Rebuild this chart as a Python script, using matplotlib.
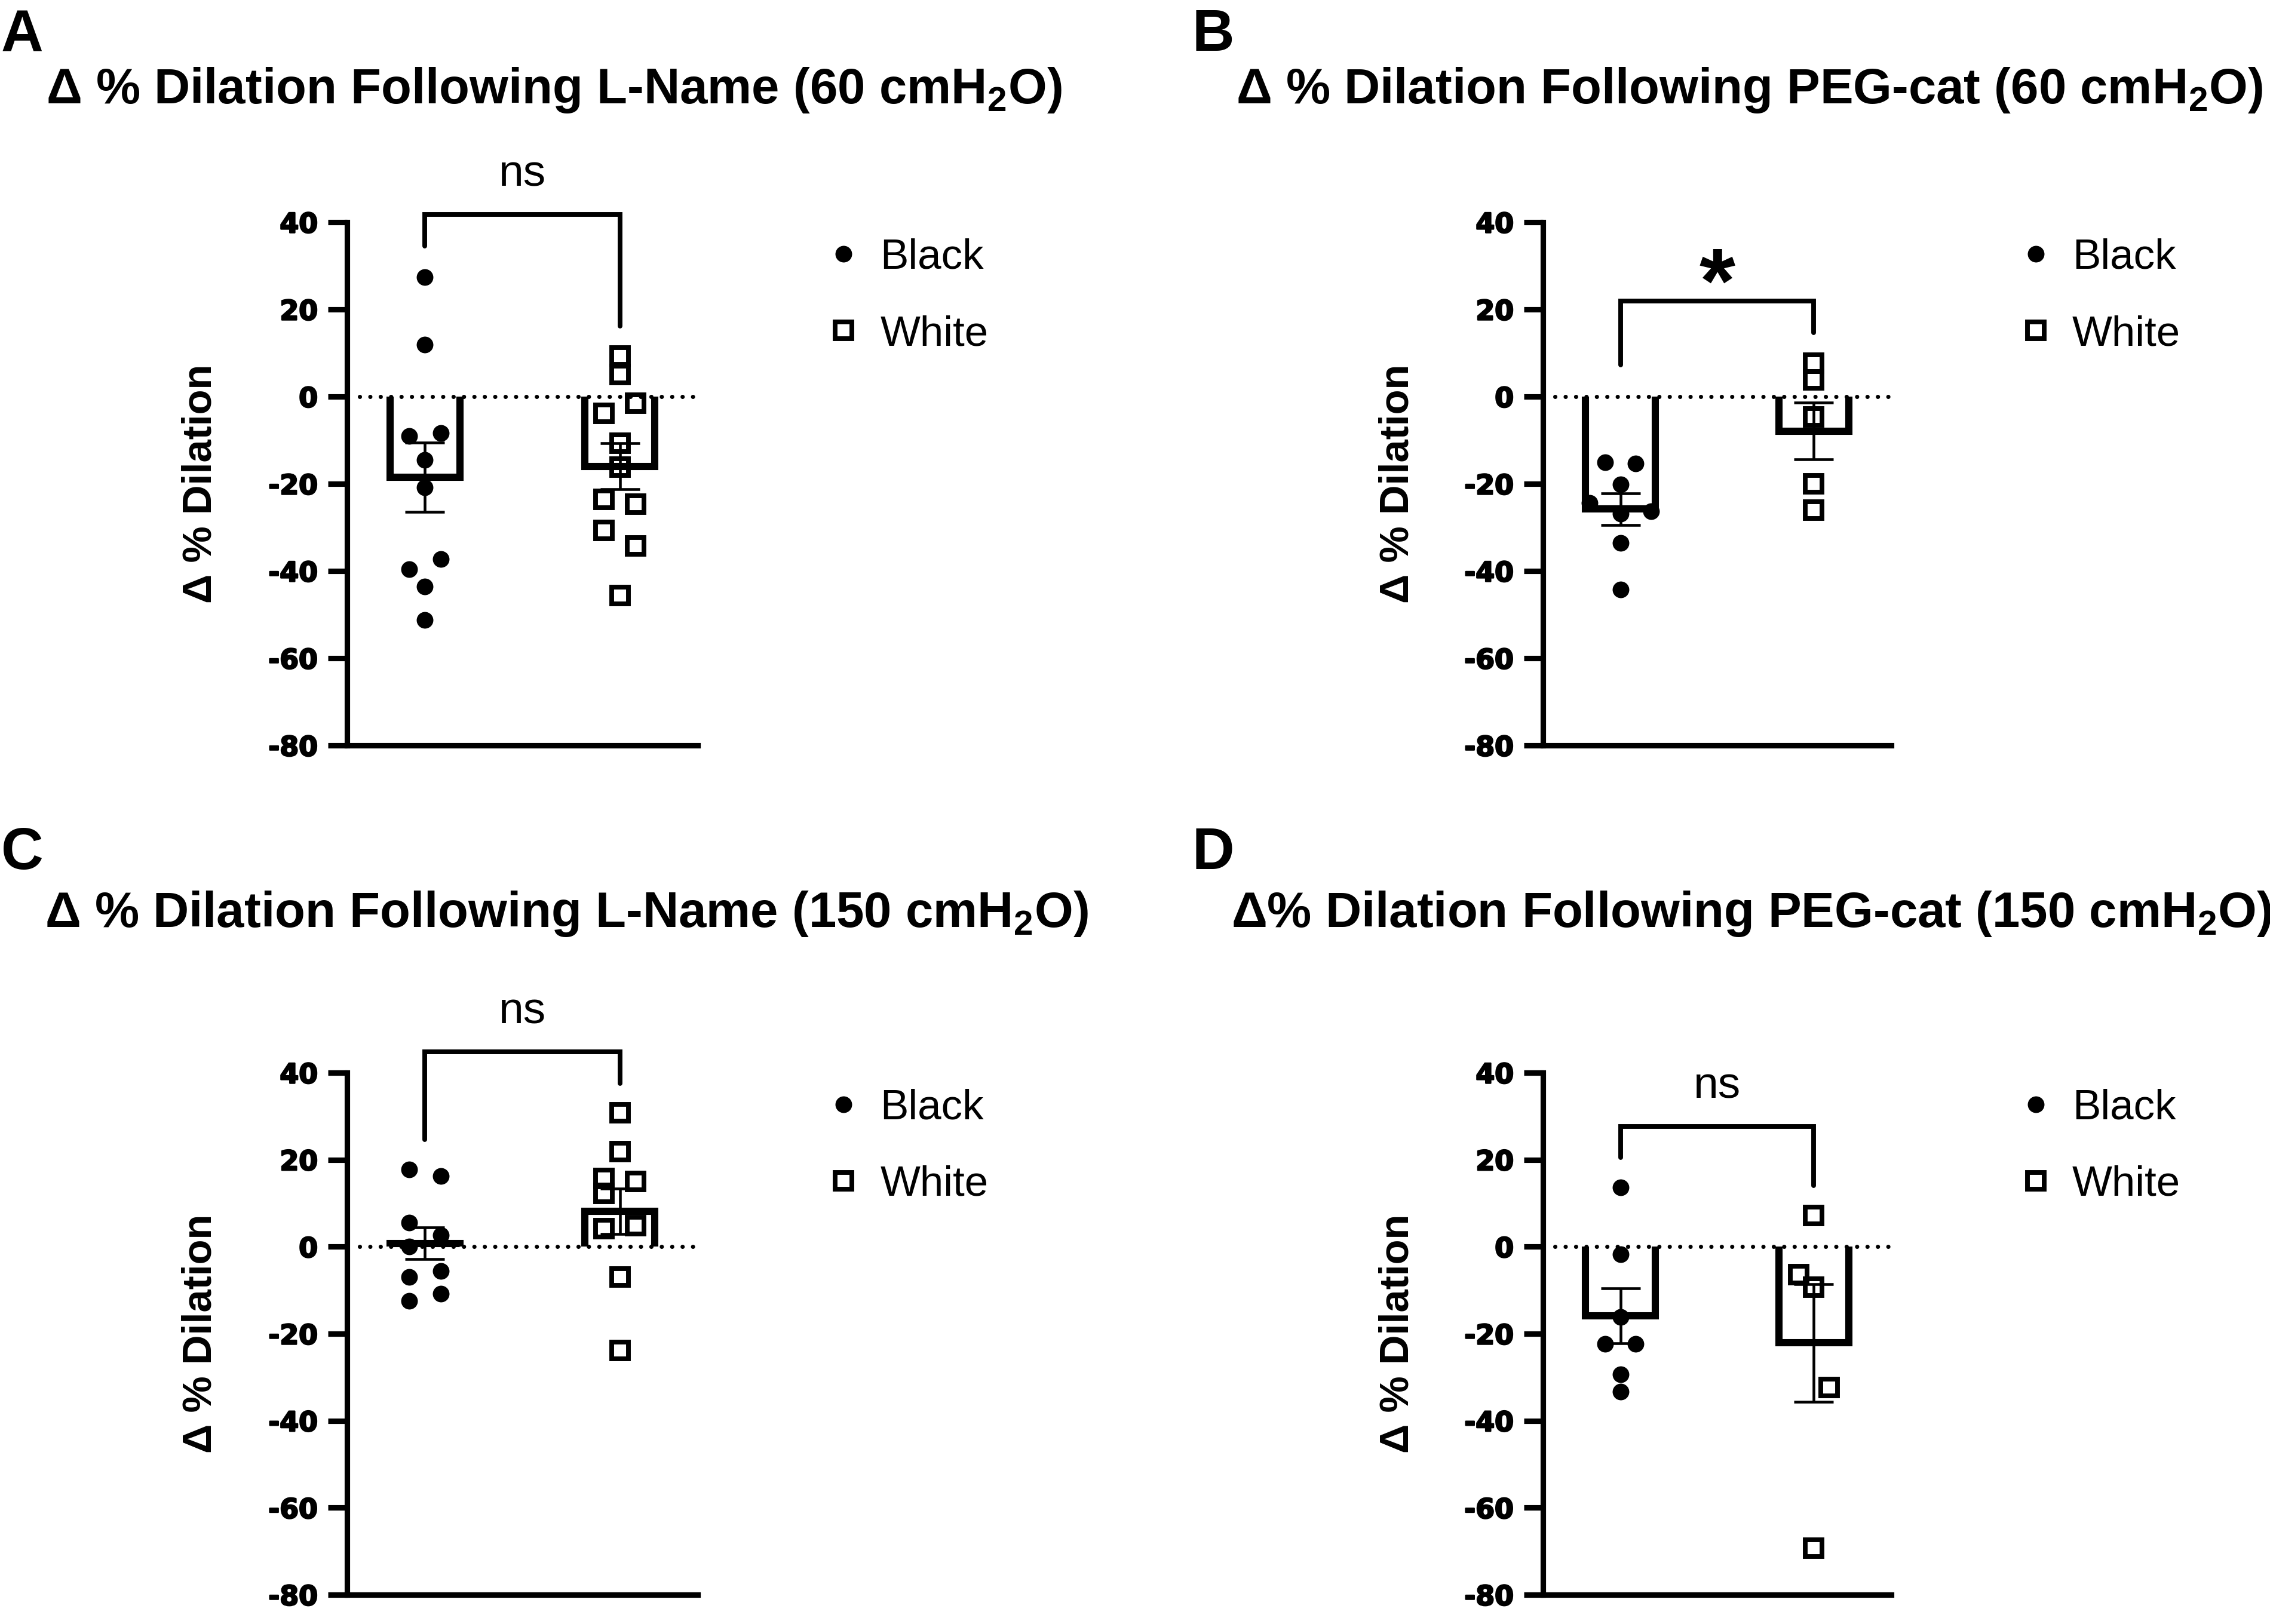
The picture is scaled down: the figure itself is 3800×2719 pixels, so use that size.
"""Four-panel bar + scatter figure: change in % dilation after L-Name / PEG-cat,
Black vs White groups, at 60 and 150 cmH2O. Writes out.png.
"""
import numpy as np
import matplotlib
matplotlib.use("Agg")
import matplotlib.pyplot as plt  # noqa: E402
import matplotlib.patheffects as pe  # noqa: E402

plt.rcParams["font.family"] = ["Liberation Sans", "DejaVu Sans"]
plt.rcParams["mathtext.fontset"] = "custom"
plt.rcParams["mathtext.bf"] = "Liberation Sans:bold"
plt.rcParams["mathtext.rm"] = "Liberation Sans"
plt.rcParams["mathtext.default"] = "bf"
plt.rcParams["axes.unicode_minus"] = False

# ---- data (Δ % dilation) ----
GROUPS = ["Black", "White"]

A_BLACK = [27.4, 11.9, -9.0, -8.3, -14.5, -20.8, -37.3, -39.6, -43.5, -51.2]
A_WHITE = [9.3, 5.1, -1.5, -3.9, -10.7, -16.1, -23.5, -24.6, -30.7, -34.2, -45.6]
B_BLACK = [-15.1, -15.4, -20.2, -24.4, -26.3, -26.8, -33.5, -44.2]
B_WHITE = [7.7, 3.9, -4.6, -20.0, -26.0]
C_BLACK = [17.7, 16.2, 5.5, 2.6, 0.1, -5.6, -6.9, -10.8, -12.5]
C_WHITE = [30.8, 21.9, 15.7, 15.0, 12.2, 4.2, 4.8, -6.9, -23.9]
D_BLACK = [13.7, -1.8, -16.2, -22.3, -22.3, -29.3, -33.3]
D_WHITE = [7.2, -9.3, -6.4, -32.4, -69.3]

# group mean and SEM per panel (Black, White)
MEANS = {"A": [-18.5, -16.0], "B": [-25.8, -7.9], "C": [0.8, 8.1], "D": [-15.9, -22.1]}
SEMS = {"A": [8.0, 5.3], "B": [3.6, 6.5], "C": [3.7, 5.2], "D": [6.3, 13.5]}

# comparison bracket: (left leg end, top, right leg end) and label
BRACKETS = {"A": (34.5, 41.8, 16.1), "B": (7.2, 21.9, 14.7),
            "C": (24.6, 44.8, 37.5), "D": (20.5, 27.7, 14.1)}
SIG = {"A": "ns", "B": "*", "C": "ns", "D": "ns"}

TITLES = {"A": "Δ % Dilation Following L-Name (60 cmH$_2$O)",
          "B": "Δ % Dilation Following PEG-cat (60 cmH$_2$O)",
          "C": "Δ % Dilation Following L-Name (150 cmH$_2$O)",
          "D": "Δ% Dilation Following PEG-cat (150 cmH$_2$O)"}

YTICKS = [-80, -60, -40, -20, 0, 20, 40]

# scatter column of each point (side-by-side placement of overlapping points)
COLS = {"A": ([0, 0, -1, 1, 0, 0, 1, -1, 0, 0], [0, 0, 1, -1, 0, 0, -1, 1, -1, 1, 0]),
        "B": ([-1, 1, 0, -2, 2, 0, 0, 0], [0, 0, 0, 0, 0]),
        "C": ([-1, 1, -1, 1, -1, 1, -1, 1, -1], [0, 0, -1, 1, -1, -1, 1, 0, 0]),
        "D": ([0, 0, 0, -1, 1, 0, 0], [0, 0, -1, 1, 0])}

VALUES = {"A": (A_BLACK, A_WHITE), "B": (B_BLACK, B_WHITE),
          "C": (C_BLACK, C_WHITE), "D": (D_BLACK, D_WHITE)}

# ---- layout (figure fractions) ----
W, H = 3800, 2719
AX_POS = {"A": [581 / W, 1 - 1248 / H, 587 / W, 876 / H],
          "B": [2583 / W, 1 - 1248 / H, 583 / W, 876 / H],
          "C": [581 / W, 1 - 2670 / H, 587 / W, 874 / H],
          "D": [2583 / W, 1 - 2670 / H, 583 / W, 874 / H]}
TITLE_POS = {"A": (927 / W, 1 - 173 / H), "B": (2929 / W, 1 - 173 / H),
             "C": (948 / W, 1 - 1552 / H), "D": (2932 / W, 1 - 1552 / H)}
LETTER_POS = {"A": (2 / W, 1 - 85 / H), "B": (1995 / W, 1 - 85 / H),
              "C": (2 / W, 1 - 1455 / H), "D": (1995 / W, 1 - 1455 / H)}

JIT = 0.08
HALF_BAR = 0.18
HEAVY = [pe.withStroke(linewidth=0.6, foreground="k")]


def draw_panel(ax, key):
    for gi, (vals, cols) in enumerate(zip(VALUES[key], COLS[key])):
        m, s = MEANS[key][gi], SEMS[key][gi]
        # bar outline, open on the baseline side
        ax.plot([gi - HALF_BAR, gi - HALF_BAR, gi + HALF_BAR, gi + HALF_BAR], [0, m, m, 0],
                color="k", lw=2.9, solid_joinstyle="miter", solid_capstyle="butt", zorder=2)
        xs = gi + JIT * np.array(cols)
        if gi == 0:
            ax.plot(xs, vals, "o", ms=6.7, color="k", mew=0, zorder=3, label=GROUPS[gi])
        else:
            ax.plot(xs, vals, "s", ms=6.5, mfc="none", mec="k", mew=1.9, zorder=3,
                    label=GROUPS[gi])
        ax.errorbar(gi, m, yerr=s, fmt="none", ecolor="k", elinewidth=1.1,
                    capsize=8, capthick=1.1, zorder=4)

    ax.axhline(0, xmin=0.035, xmax=0.995, color="k", lw=1.7,
               linestyle=(0, (0.01, 2.45)), dash_capstyle="round", zorder=1)

    lo, top, ro = BRACKETS[key]
    ax.plot([0, 0, 1, 1], [lo, top, top, ro], color="k", lw=1.9, clip_on=False,
            solid_joinstyle="miter", solid_capstyle="round", zorder=5)
    if SIG[key] == "*":
        ax.text(0.5, top - 2.5, "*", ha="center", va="baseline", fontsize=37,
                fontweight="bold", clip_on=False)
    else:
        ax.text(0.5, top + 6.5, SIG[key], ha="center", va="baseline", fontsize=18,
                clip_on=False)

    ax.set_xlim(-0.40, 1.40)
    ax.set_ylim(-80, 40)
    ax.set_yticks(YTICKS, labels=[str(t) for t in YTICKS], fontfamily="DejaVu Sans",
                  fontweight="bold", fontsize=11)
    for lbl in ax.get_yticklabels():
        lbl.set_path_effects(HEAVY)
    ax.set_xticks([])
    for sp in ("top", "right"):
        ax.spines[sp].set_visible(False)
    for sp in ("left", "bottom"):
        ax.spines[sp].set_linewidth(2.2)
    ax.tick_params(axis="y", length=7.7, width=2.2, pad=4.0)
    ax.set_ylabel("Δ % Dilation", fontsize=16.5, fontweight="bold")
    ax.yaxis.set_label_coords(-0.363, 0.5)

    # legend drawn by hand at the right of the axes
    handles = ax.get_lines()
    black_h = [h for h in handles if h.get_label() == "Black"][0]
    white_h = [h for h in handles if h.get_label() == "White"][0]
    for h, yc, yb in ((black_h, 0.9395, 0.911), (white_h, 0.7934, 0.7648)):
        ax.plot([1.415], [yc], transform=ax.transAxes, clip_on=False,
                marker=h.get_marker(), ms=h.get_markersize(), mfc=h.get_markerfacecolor(),
                mec=h.get_markeredgecolor(), mew=h.get_markeredgewidth(), ls="none")
        ax.text(1.52, yb, h.get_label(), transform=ax.transAxes, fontsize=17,
                ha="left", va="baseline")


def main():
    fig = plt.figure(figsize=(W / 300, H / 300), dpi=300)
    for key in "ABCD":
        ax = fig.add_axes(AX_POS[key])
        draw_panel(ax, key)
        tx, ty = TITLE_POS[key]
        fig.text(tx, ty, TITLES[key], ha="center", va="baseline", fontsize=20,
                 fontweight="bold")
        lx, ly = LETTER_POS[key]
        fig.text(lx, ly, key, ha="left", va="baseline", fontsize=23.5, fontweight="bold")
    fig.savefig("out.png", dpi=300)
    plt.close(fig)


if __name__ == "__main__":
    main()
